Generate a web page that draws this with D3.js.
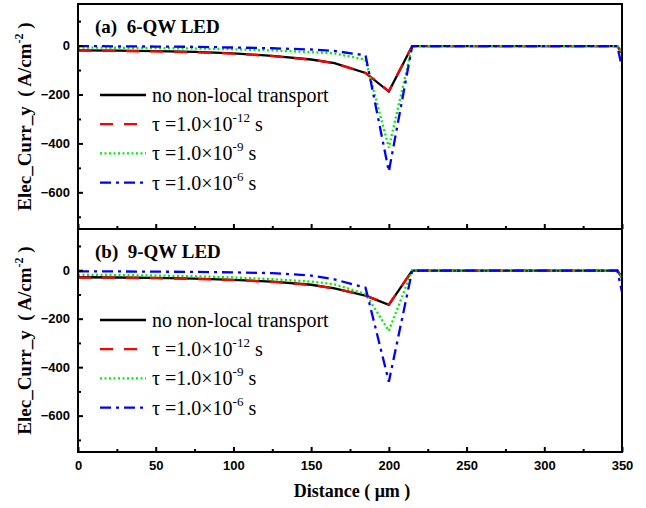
<!DOCTYPE html>
<html>
<head>
<meta charset="utf-8">
<script src="https://cdn.jsdelivr.net/npm/d3@7"></script>
<style>
  body { margin: 0; background: #fff; }
  .tick text { font-family: Arial, "Liberation Sans", sans-serif; font-weight: bold; font-size: 13px; fill: #000; }
</style>
</head>
<body>
<svg id="chart" width="646" height="508"></svg>
<script>
// distance in um (shared x grid)
const distance = [0, 25, 50, 75, 100, 125, 150, 165, 185, 200, 215, 250, 300, 347, 350];

// (a) 6-QW LED
const noNonLocalA = [-20, -21, -23, -26, -32, -42, -57, -72, -112, -188, -2, -2, -2, -2, -30];
const tau12A      = [-21, -22, -24, -27, -33, -43, -58, -72, -112, -186, -2, -2, -2, -2, -30];
const tau9A       = [-8, -9, -10, -12, -15, -20, -27, -32, -58, -418, -2, -2, -2, -2, -30];
const tau6A       = [-2, -3, -4, -5, -8, -11, -16, -22, -40, -515, -2, -2, -2, -2, -90];

// (b) 9-QW LED
const noNonLocalB = [-29, -30, -32, -35, -40, -47, -60, -75, -105, -143, -2, -2, -2, -2, -30];
const tau12B      = [-30, -31, -33, -36, -41, -48, -61, -75, -105, -141, -2, -2, -2, -2, -30];
const tau9B       = [-19, -20, -22, -25, -30, -37, -47, -58, -98, -250, -2, -2, -2, -2, -30];
const tau6B       = [-5, -5, -6, -7, -9, -12, -22, -38, -72, -460, -2, -2, -2, -2, -90];

const panelTitles = ["(a)  6-QW LED", "(b)  9-QW LED"];
const tauExponents = ["-12", "-9", "-6"];
const xTicks = [0, 50, 100, 150, 200, 250, 300, 350];
const xMinor = [25, 75, 125, 175, 225, 275, 325];
const yTicks = [-600, -400, -200, 0];
const yMinor = [-700, -500, -300, -100, 100];

const svg = d3.select("#chart");
const left = 78, right = 622;
const panels = [
  { top: 4, bottom: 229, data: [noNonLocalA, tau12A, tau9A, tau6A], title: panelTitles[0], labels: false },
  { top: 229, bottom: 452, data: [noNonLocalB, tau12B, tau9B, tau6B], title: panelTitles[1], labels: true }
];

const styles = [
  { color: "#000000", dash: null },
  { color: "#ff0000", dash: "13,11" },
  { color: "#00ee00", dash: "2,2.5" },
  { color: "#0000ff", dash: "11,5,3,5" }
];

const x = d3.scaleLinear().domain([0, 350]).range([left, right]);
const serif = '"Times New Roman", "Liberation Serif", serif';

panels.forEach((p, pi) => {
  const y = d3.scaleLinear().domain([-750, 170]).range([p.bottom, p.top]);
  const g = svg.append("g");

  // curves
  p.data.forEach((vals, si) => {
    const pts = distance.map((d, i) => [d, vals[i]]);
    const line = d3.line().x(d => x(d[0])).y(d => y(d[1]));
    g.append("path")
      .attr("d", line(pts))
      .attr("fill", "none")
      .attr("stroke", styles[si].color)
      .attr("stroke-width", 2.3)
      .attr("stroke-dasharray", styles[si].dash);
  });

  // axes
  const yAxis = d3.axisLeft(y).tickValues(yTicks).tickSize(-5).tickPadding(8).tickFormat(d3.format("d"));
  g.append("g").attr("transform", `translate(${left},0)`).call(yAxis)
    .call(a => a.select(".domain").remove());
  g.append("g").attr("transform", `translate(${left},0)`)
    .call(d3.axisLeft(y).tickValues(yMinor).tickSize(-3).tickFormat(""))
    .call(a => a.select(".domain").remove());

  const xAxis = d3.axisBottom(x).tickValues(xTicks).tickSize(-5).tickPadding(9)
    .tickFormat(p.labels ? d3.format("d") : "");
  g.append("g").attr("transform", `translate(0,${p.bottom})`).call(xAxis)
    .call(a => a.select(".domain").remove());
  g.append("g").attr("transform", `translate(0,${p.bottom})`)
    .call(d3.axisBottom(x).tickValues(xMinor).tickSize(-3).tickFormat(""))
    .call(a => a.select(".domain").remove());
  g.selectAll(".tick line").attr("stroke", "#000").attr("stroke-width", 2);

  // frame
  g.append("rect")
    .attr("x", left).attr("y", p.top)
    .attr("width", right - left).attr("height", p.bottom - p.top)
    .attr("fill", "none").attr("stroke", "#000").attr("stroke-width", 2);

  // panel title
  g.append("text")
    .attr("x", 95).attr("y", p.top + 29)
    .attr("font-family", serif).attr("font-weight", "bold").attr("font-size", 19)
    .attr("xml:space", "preserve")
    .text(p.title);

  // y axis title
  const yt = g.append("text")
    .attr("transform", `translate(31,${(p.top + p.bottom) / 2}) rotate(-90)`)
    .attr("text-anchor", "middle")
    .attr("font-family", serif).attr("font-weight", "bold").attr("font-size", 19)
    .attr("xml:space", "preserve");
  yt.append("tspan").text("Elec_Curr_y  ( A/cm");
  yt.append("tspan").attr("dy", -8).attr("font-size", 12).text("-2");
  yt.append("tspan").attr("dy", 8).text(" )");

  // legend
  const legTop = p.top + 91;
  styles.forEach((s, si) => {
    const ly = legTop + si * 29.2;
    g.append("line")
      .attr("x1", 100).attr("x2", 146).attr("y1", ly).attr("y2", ly)
      .attr("stroke", s.color).attr("stroke-width", 2.3)
      .attr("stroke-dasharray", s.dash);
    const t = g.append("text")
      .attr("x", 152).attr("y", ly + 7)
      .attr("font-family", serif).attr("font-size", 20);
    if (si === 0) {
      t.text("no non-local transport");
    } else {
      t.append("tspan").text("\u03c4 =1.0\u00d710");
      t.append("tspan").attr("dy", -9).attr("font-size", 13).text(tauExponents[si - 1]);
      t.append("tspan").attr("dy", 9).text(" s");
    }
  });
});

// x axis title
svg.append("text")
  .attr("x", 352).attr("y", 497)
  .attr("text-anchor", "middle")
  .attr("font-family", serif).attr("font-weight", "bold").attr("font-size", 18)
  .attr("xml:space", "preserve")
  .text("Distance ( \u03bcm )");
</script>
</body>
</html>
